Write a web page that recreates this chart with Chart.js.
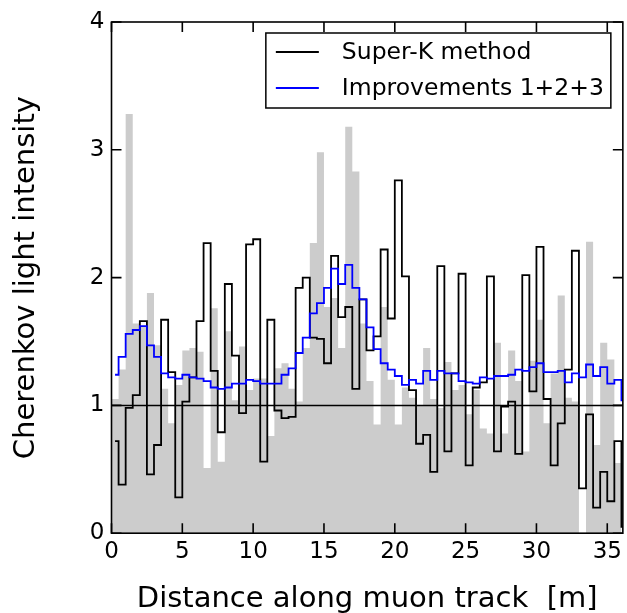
<!DOCTYPE html>
<html>
<head>
<meta charset="utf-8">
<script src="https://cdn.jsdelivr.net/npm/chart.js@4.4.0/dist/chart.umd.min.js"></script>
<style>
  html, body { margin: 0; padding: 0; background: #fff; }
</style>
</head>
<body>
<canvas id="myChart" width="627" height="613"></canvas>
<script>
'use strict';

// binning along the track (m)
let binWidth = 0.5;
let lineStart = 0.25;
let xMax = 36.1;
let xTicks = [0, 5, 10, 15, 20, 25, 30, 35];
let yTicks = [0, 1, 2, 3, 4];
let refLevel = 1;

let seriesNames = ['Super-K method', 'Improvements 1+2+3'];

// gray histogram, one value per 0.5 m bin
let grayValues = [
  1.05, 1.28, 3.28, 1.64, 1.62, 1.88, 1.47, 1.13, 0.86, 1.16,
  1.43, 1.45, 1.42, 0.51, 1.76, 0.56, 1.58, 1.04, 1.46, 1.12,
  1.21, 1.21, 0.76, 1.29, 1.33, 1.13, 1.03, 1.45, 2.27, 2.98,
  1.77, 1.84, 1.45, 3.18, 2.83, 1.64, 1.19, 0.85, 1.77, 1.20,
  0.85, 1.14, 1.06, 1.00, 1.45, 1.05, 0.98, 1.34, 1.12, 1.16,
  0.93, 1.12, 0.82, 0.78, 1.49, 0.78, 1.43, 1.19, 0.64, 1.35,
  1.67, 0.86, 1.25, 1.86, 1.06, 1.03, 0.00, 2.28, 0.69, 1.49,
  1.36, 0.55
];

// Super-K method
let superKValues = [
  0.72, 0.38, 0.98, 1.08, 1.66, 0.46, 0.69, 1.67, 1.26, 0.28,
  1.03, 1.22, 1.66, 2.27, 1.27, 0.79, 1.95, 1.39, 0.94, 2.26,
  2.30, 0.56, 1.67, 0.96, 0.90, 0.91, 1.92, 2.00, 1.53, 1.52,
  1.33, 2.17, 1.69, 1.77, 1.13, 1.83, 1.43, 1.54, 2.22, 1.68,
  2.76, 2.01, 1.12, 0.70, 0.77, 0.48, 2.09, 0.64, 1.25, 2.03,
  0.53, 1.14, 1.18, 2.01, 0.64, 0.99, 1.03, 0.62, 2.02, 1.11,
  2.24, 1.05, 0.53, 0.86, 1.28, 2.21, 0.35, 0.93, 0.20, 0.48,
  0.25, 0.72, 0.05
];

// Improvements 1+2+3
let improvedValues = [
  1.24, 1.38, 1.56, 1.59, 1.62, 1.47, 1.38, 1.25, 1.22, 1.21,
  1.24, 1.22, 1.21, 1.19, 1.14, 1.13, 1.14, 1.17, 1.17, 1.20,
  1.19, 1.17, 1.17, 1.17, 1.24, 1.29, 1.41, 1.53, 1.72, 1.80,
  1.92, 2.07, 1.95, 2.10, 1.92, 1.83, 1.61, 1.44, 1.33, 1.28,
  1.23, 1.16, 1.20, 1.17, 1.27, 1.20, 1.27, 1.25, 1.25, 1.19,
  1.18, 1.17, 1.22, 1.21, 1.23, 1.23, 1.24, 1.28, 1.27, 1.30,
  1.33, 1.26, 1.26, 1.27, 1.18, 1.25, 1.22, 1.32, 1.23, 1.30,
  1.17, 1.20, 1.04
];

let fontName = "'DejaVu Sans', sans-serif";

// left bin edges -> step points
function histPoints(values, start) {
  let pts = [];
  for (let i = 0; i < values.length; i++) {
    let x = i * binWidth;
    if (i === 0 && start !== undefined) {
      x = start;
    }
    pts.push({ x: x, y: values[i] });
  }
  pts.push({ x: Math.min(values.length * binWidth, xMax), y: values[values.length - 1] });
  return pts;
}

// box, inward ticks and legend, drawn over the data
let framePlugin = {
  id: 'frame',
  afterDatasetsDraw(chart) {
    let ctx = chart.ctx;
    let a = chart.chartArea;
    let xs = chart.scales.x;
    let ys = chart.scales.y;
    let tick = 10;

    ctx.save();
    ctx.strokeStyle = '#000';
    ctx.lineWidth = 1.6;
    ctx.beginPath();
    xTicks.forEach(function (v) {
      let px = xs.getPixelForValue(v);
      ctx.moveTo(px, a.bottom);
      ctx.lineTo(px, a.bottom - tick);
      ctx.moveTo(px, a.top);
      ctx.lineTo(px, a.top + tick);
    });
    yTicks.forEach(function (v) {
      let py = ys.getPixelForValue(v);
      ctx.moveTo(a.left, py);
      ctx.lineTo(a.left + tick, py);
      ctx.moveTo(a.right, py);
      ctx.lineTo(a.right - tick, py);
    });
    ctx.stroke();
    ctx.strokeRect(a.left, a.top, a.right - a.left, a.bottom - a.top);

    // legend
    let boxRight = a.right - 12;
    let boxTop = a.top + 11;
    let boxW = 345;
    let boxH = 75;
    let boxLeft = boxRight - boxW;
    ctx.fillStyle = '#fff';
    ctx.fillRect(boxLeft, boxTop, boxW, boxH);
    ctx.lineWidth = 1.5;
    ctx.strokeRect(boxLeft, boxTop, boxW, boxH);

    let rows = chart.data.datasets.filter(function (d) {
      return seriesNames.indexOf(d.label) >= 0;
    });
    ctx.font = '23.5px ' + fontName;
    ctx.textBaseline = 'middle';
    ctx.textAlign = 'left';
    rows.forEach(function (d, i) {
      let y = boxTop + 19 + i * 36;
      ctx.strokeStyle = d.borderColor;
      ctx.lineWidth = d.borderWidth;
      ctx.beginPath();
      ctx.moveTo(boxLeft + 10, y);
      ctx.lineTo(boxLeft + 53, y);
      ctx.stroke();
      ctx.fillStyle = '#000';
      ctx.fillText(d.label, boxLeft + 76, y + 1);
    });
    ctx.restore();
  }
};

let ctx = document.getElementById('myChart').getContext('2d');
let myChart = new Chart(ctx, {
  type: 'line',
  data: {
    datasets: [{
      label: seriesNames[0],
      data: histPoints(superKValues, lineStart),
      borderColor: '#000000',
      borderWidth: 1.8,
      stepped: 'before',
      pointRadius: 0,
      fill: false,
      order: 1
    }, {
      label: seriesNames[1],
      data: histPoints(improvedValues, lineStart),
      borderColor: '#0000ff',
      borderWidth: 1.8,
      stepped: 'before',
      pointRadius: 0,
      fill: false,
      order: 0
    }, {
      label: 'reference',
      data: [{ x: 0, y: refLevel }, { x: xMax, y: refLevel }],
      borderColor: '#000000',
      borderWidth: 1.5,
      pointRadius: 0,
      fill: false,
      order: 2
    }, {
      label: 'histogram',
      data: histPoints(grayValues),
      borderColor: 'rgba(0,0,0,0)',
      borderWidth: 0,
      backgroundColor: '#cccccc',
      stepped: 'before',
      pointRadius: 0,
      fill: 'origin',
      order: 3
    }]
  },
  options: {
    responsive: false,
    animation: false,
    layout: { padding: { top: 22, right: 3.3, left: 0, bottom: 0 } },
    plugins: {
      legend: { display: false },
      tooltip: { enabled: false }
    },
    scales: {
      x: {
        type: 'linear',
        min: 0,
        max: xMax,
        afterBuildTicks: function (scale) {
          scale.ticks = xTicks.map(function (v) { return { value: v }; });
        },
        afterFit: function (scale) {
          scale.height = 613 - 533.2;
        },
        ticks: {
          font: { family: fontName, size: 23 },
          color: '#000',
          padding: 5,
          maxRotation: 0,
          autoSkip: false
        },
        grid: { display: false, drawTicks: false },
        border: { display: false },
        title: {
          display: true,
          text: 'Distance along muon track  [m]',
          font: { family: fontName, size: 29, lineHeight: 0.9 },
          color: '#000',
          padding: { top: 0, bottom: 0.5 }
        }
      },
      y: {
        min: 0,
        max: 4,
        afterBuildTicks: function (scale) {
          scale.ticks = yTicks.map(function (v) { return { value: v }; });
        },
        afterFit: function (scale) {
          scale.width = 111.5;
        },
        ticks: {
          font: { family: fontName, size: 23 },
          color: '#000',
          padding: 7
        },
        grid: { display: false, drawTicks: false },
        border: { display: false },
        title: {
          display: true,
          text: 'Cherenkov light intensity',
          font: { family: fontName, size: 29 },
          color: '#000',
          padding: { top: 9, bottom: 0 }
        }
      }
    }
  },
  plugins: [framePlugin]
});
</script>
</body>
</html>
